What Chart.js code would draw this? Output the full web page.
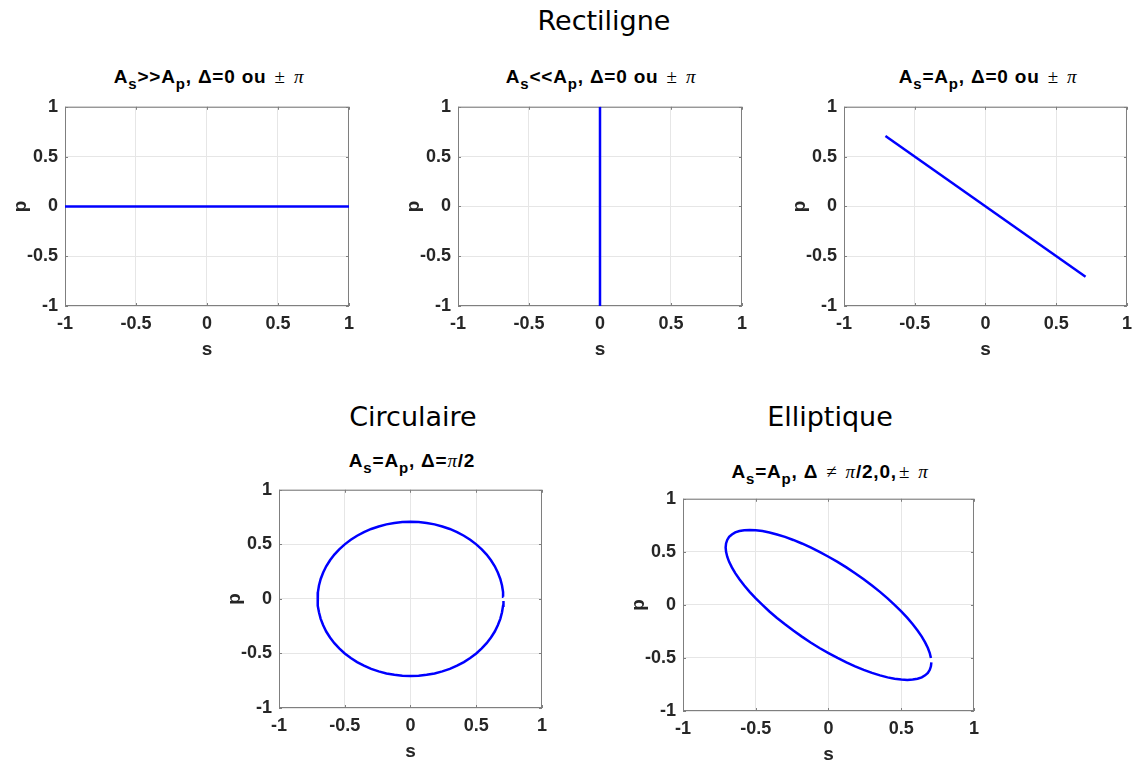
<!DOCTYPE html>
<html>
<head>
<meta charset="utf-8">
<script src="https://cdn.jsdelivr.net/npm/chart.js@4"></script>
<style>
  body { margin: 0; background: #fff; width: 1137px; height: 762px; overflow: hidden; position: relative; }
  canvas { position: absolute; }
  .section { position: absolute; font-family: 'DejaVu Sans', sans-serif; font-size: 27px; color: #000;
             transform: translate(-50%, -50%); white-space: nowrap; }
  .sub { position: absolute; font-family: 'Liberation Sans', Arial, sans-serif; font-weight: bold; font-size: 19px;
         letter-spacing: 0.8px; line-height: 19px; color: #000; transform: translateX(-50%); white-space: nowrap; }
  .sub .i { position: relative; top: 6px; font-size: 15px; }
  .sub .m { font-family: 'Liberation Serif', serif; font-weight: normal; margin: 0 2px; }
  .sub .pi { font-family: 'Liberation Serif', serif; font-weight: normal; font-style: italic; }
</style>
</head>
<body>
<div class="section" style="left:604px; top:20px;">Rectiligne</div>
<div class="section" style="left:413px; top:416px;">Circulaire</div>
<div class="section" style="left:830px; top:416px;">Elliptique</div>

<div class="sub" style="left:209px; top:67px;">A<span class="i">s</span>&gt;&gt;A<span class="i">p</span>, Δ=0 ou <span class="m">±</span> <span class="pi">π</span></div>
<div class="sub" style="left:601px; top:67px;">A<span class="i">s</span>&lt;&lt;A<span class="i">p</span>, Δ=0 ou <span class="m">±</span> <span class="pi">π</span></div>
<div class="sub" style="left:988px; top:67px;">A<span class="i">s</span>=A<span class="i">p</span>, Δ=0 ou <span class="m">±</span> <span class="pi">π</span></div>
<div class="sub" style="left:412px; top:451px;">A<span class="i">s</span>=A<span class="i">p</span>, Δ=<span class="pi">π</span>/2</div>
<div class="sub" style="left:830px; top:462px;">A<span class="i">s</span>=A<span class="i">p</span>, Δ <span class="m">≠</span> <span class="pi">π</span>/2,0,<span class="m">±</span> <span class="pi">π</span></div>

<canvas id="c1"></canvas>
<canvas id="c2"></canvas>
<canvas id="c3"></canvas>
<canvas id="c4"></canvas>
<canvas id="c5"></canvas>

<script>
// axis ticks shared by every panel
const tickValues = [-1, -0.5, 0, 0.5, 1];
const tickLabels = ['-1', '-0.5', '0', '0.5', '1'];

// Rectiligne, As >> Ap
const s1 = [-1, 1];
const p1 = [0, 0];
// Rectiligne, As << Ap
const s2 = [0, 0];
const p2 = [-1, 1];
// Rectiligne, As = Ap
const s3 = [-0.707, 0.707];
const p3 = [0.707, -0.707];
// Circulaire
const s4 = [0.707, 0.704, 0.696, 0.683, 0.664, 0.641, 0.612, 0.579, 0.542, 0.500, 0.454, 0.406, 0.354,
            0.299, 0.242, 0.183, 0.123, 0.062, 0, -0.062, -0.123, -0.183, -0.242, -0.299, -0.354,
            -0.406, -0.454, -0.500, -0.542, -0.579, -0.612, -0.641, -0.664, -0.683, -0.696, -0.704, -0.707,
            -0.704, -0.696, -0.683, -0.664, -0.641, -0.612, -0.579, -0.542, -0.500, -0.454, -0.406, -0.354,
            -0.299, -0.242, -0.183, -0.123, -0.062, 0, 0.062, 0.123, 0.183, 0.242, 0.299, 0.354,
            0.406, 0.454, 0.500, 0.542, 0.579, 0.612, 0.641, 0.664, 0.683, 0.696, 0.704, 0.707];
const p4 = [0.020, 0.062, 0.123, 0.183, 0.242, 0.299, 0.354, 0.406, 0.454, 0.500, 0.542, 0.579, 0.612,
            0.641, 0.664, 0.683, 0.696, 0.704, 0.707, 0.704, 0.696, 0.683, 0.664, 0.641, 0.612,
            0.579, 0.542, 0.500, 0.454, 0.406, 0.354, 0.299, 0.242, 0.183, 0.123, 0.062, 0,
            -0.062, -0.123, -0.183, -0.242, -0.299, -0.354, -0.406, -0.454, -0.500, -0.542, -0.579, -0.612,
            -0.641, -0.664, -0.683, -0.696, -0.704, -0.707, -0.704, -0.696, -0.683, -0.664, -0.641, -0.612,
            -0.579, -0.542, -0.500, -0.454, -0.406, -0.354, -0.299, -0.242, -0.183, -0.123, -0.062, -0.020];
// Elliptique
const s5 = [0.707, 0.704, 0.696, 0.683, 0.664, 0.641, 0.612, 0.579, 0.542, 0.500, 0.454, 0.406, 0.354,
            0.299, 0.242, 0.183, 0.123, 0.062, 0, -0.062, -0.123, -0.183, -0.242, -0.299, -0.354,
            -0.406, -0.454, -0.500, -0.542, -0.579, -0.612, -0.641, -0.664, -0.683, -0.696, -0.704, -0.707,
            -0.704, -0.696, -0.683, -0.664, -0.641, -0.612, -0.579, -0.542, -0.500, -0.454, -0.406, -0.354,
            -0.299, -0.242, -0.183, -0.123, -0.062, 0, 0.062, 0.123, 0.183, 0.242, 0.299, 0.354,
            0.406, 0.454, 0.500, 0.542, 0.579, 0.612, 0.641, 0.664, 0.683, 0.696, 0.704];
const p5 = [-0.542, -0.579, -0.612, -0.641, -0.664, -0.683, -0.696, -0.704, -0.707, -0.704, -0.696, -0.683, -0.664,
            -0.641, -0.612, -0.579, -0.542, -0.500, -0.454, -0.406, -0.354, -0.299, -0.242, -0.183, -0.123,
            -0.062, 0, 0.062, 0.123, 0.183, 0.242, 0.299, 0.354, 0.406, 0.454, 0.500, 0.542,
            0.579, 0.612, 0.641, 0.664, 0.683, 0.696, 0.704, 0.707, 0.704, 0.696, 0.683, 0.664,
            0.641, 0.612, 0.579, 0.542, 0.500, 0.454, 0.406, 0.354, 0.299, 0.242, 0.183, 0.123,
            0.062, 0, -0.062, -0.123, -0.183, -0.242, -0.299, -0.354, -0.406, -0.454, -0.500];

const panels = [
  { id: 'c1', s: s1, p: p1, left: 65, top: 101, w: 288, h: 205 },
  { id: 'c2', s: s2, p: p2, left: 458, top: 101, w: 288, h: 205 },
  { id: 'c3', s: s3, p: p3, left: 844, top: 101, w: 287, h: 205 },
  { id: 'c4', s: s4, p: p4, left: 279, top: 484, w: 267, h: 224 },
  { id: 'c5', s: s5, p: p5, left: 683, top: 493, w: 295, h: 218 }
];

const PAD = { left: 4, right: 8, top: 12, bottom: 4 };
const Y_W = 56, X_H = 55;
const tickFont = { family: "'Liberation Sans', Arial, sans-serif", size: 18, weight: 'bold' };
const titleFont = { family: "'Liberation Sans', Arial, sans-serif", size: 19, weight: 'bold' };

// box around the axes with small inward ticks, as in the original figure
const boxPlugin = {
  id: 'box',
  beforeDatasetsDraw(chart) {
    const { ctx, chartArea: a, scales } = chart;
    ctx.save();
    ctx.strokeStyle = '#7f7f7f';
    ctx.lineWidth = 1;
    ctx.strokeRect(a.left + 0.5, a.top + 0.5, a.right - a.left - 1, a.bottom - a.top - 1);
    ctx.beginPath();
    tickValues.forEach(v => {
      const x = Math.round(scales.x.getPixelForValue(v)) + 0.5;
      ctx.moveTo(x, a.bottom); ctx.lineTo(x, a.bottom - 3);
      ctx.moveTo(x, a.top); ctx.lineTo(x, a.top + 3);
      const y = Math.round(scales.y.getPixelForValue(v)) + 0.5;
      ctx.moveTo(a.left, y); ctx.lineTo(a.left + 3, y);
      ctx.moveTo(a.right, y); ctx.lineTo(a.right - 3, y);
    });
    ctx.stroke();
    ctx.restore();
  }
};

function axis(title, isX) {
  return {
    type: 'linear',
    min: -1,
    max: 1,
    afterBuildTicks: scale => { scale.ticks = tickValues.map(v => ({ value: v })); },
    afterFit: scale => { if (isX) scale.height = X_H; else scale.width = Y_W; },
    grid: { color: '#e6e6e6', drawTicks: false },
    border: { display: false },
    ticks: {
      color: '#262626',
      font: tickFont,
      padding: 7,
      maxRotation: 0,
      autoSkip: false,
      callback: v => tickLabels[tickValues.indexOf(v)]
    },
    title: { display: true, text: title, color: '#262626', font: titleFont, padding: 0 }
  };
}

panels.forEach(pn => {
  const cv = document.getElementById(pn.id);
  cv.width = PAD.left + Y_W + pn.w + PAD.right;
  cv.height = PAD.top + pn.h + X_H + PAD.bottom;
  cv.style.left = (pn.left - PAD.left - Y_W) + 'px';
  cv.style.top = (pn.top - PAD.top) + 'px';
  new Chart(cv, {
    type: 'scatter',
    data: {
      datasets: [{
        data: pn.s.map((v, i) => ({ x: v, y: pn.p[i] })),
        showLine: true,
        borderColor: '#0000ff',
        borderWidth: 2.5,
        pointRadius: 0,
        tension: 0
      }]
    },
    options: {
      responsive: false,
      animation: false,
      layout: { padding: PAD },
      plugins: { legend: { display: false }, tooltip: { enabled: false } },
      scales: { x: axis('s', true), y: axis('p', false) }
    },
    plugins: [boxPlugin]
  });
});
</script>
</body>
</html>
